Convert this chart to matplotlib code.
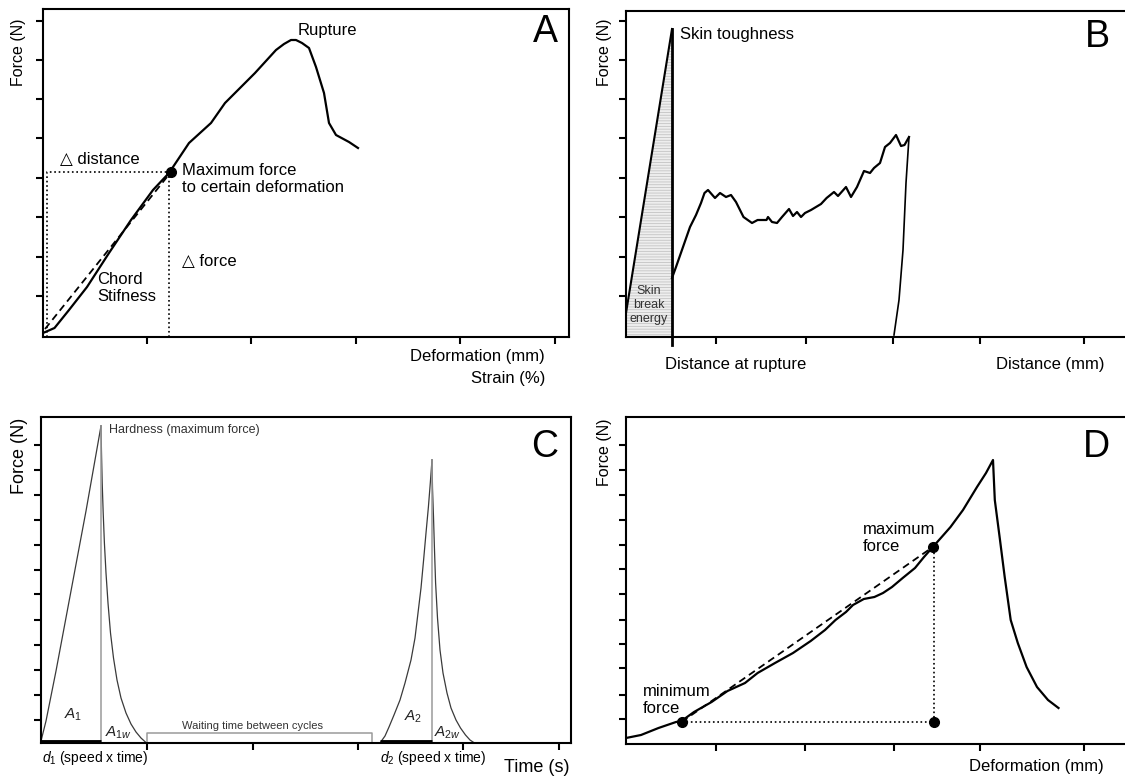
import numpy as np
import matplotlib
matplotlib.use('Agg')
import matplotlib.pyplot as plt

plt.rcParams['font.family'] = ['Liberation Sans', 'DejaVu Sans']
plt.rcParams['mathtext.fontset'] = 'custom'
plt.rcParams['mathtext.it'] = 'Liberation Sans:italic'
plt.rcParams['mathtext.rm'] = 'Liberation Sans'
plt.rcParams['hatch.linewidth'] = 0.6

# ---------------- data (units = screen px inside each panel) ----------------
# A: force / deformation curve
a_x = [0, 11.5, 26, 44, 66, 88, 110, 126, 146, 168, 182, 212, 233, 241, 248, 253, 259, 266, 273, 281, 286, 293, 306, 315]
a_y = [4, 9, 27, 50, 84, 117, 147, 164, 194, 214, 234, 264, 287, 293, 297, 297, 294, 289, 270, 244, 214, 202, 195, 189]
a_point = (128, 165)          # maximum force to certain deformation
a_chord_start = (2, 8)
a_xticks = [104, 208, 313, 417, 512]
a_yticks = [41, 80, 120, 159, 199, 238, 277, 316]

# B: puncture curve
b_rise_x = [0, 46]
b_rise_y = [24, 308]
b_rupture_x = 46
b_x = [46, 50, 57, 64, 70, 75, 78.5, 82, 89, 94, 100, 105, 110, 117.5, 126, 131.6, 140.5, 142, 146,
       151, 156, 163, 167, 171, 175, 179, 185, 190, 195, 200.6, 208, 212, 220, 225, 231, 238, 244,
       248, 254, 259, 264, 270, 275, 278.5, 283]
b_y = [59, 70, 90, 110, 122, 134, 144, 147, 139, 144, 140, 142, 135, 120, 114, 117, 117, 120, 115,
       114, 120, 128, 121, 125, 120, 124, 127, 130, 133, 139, 145, 141, 150, 140, 150, 166, 164,
       169, 174, 190, 194, 202, 191, 192, 200]
b_drop_x = [283, 280, 277, 273, 268]
b_drop_y = [200, 154, 87, 37, 2]
b_xticks = [90, 180, 267, 354, 458]
b_yticks = [41, 80, 120, 159, 199, 238, 277, 316]

# C: two compression cycles (TPA)
c1_up_x = [0, 5, 15, 30, 45, 60]
c1_up_y = [2, 22, 72, 152, 232, 317]
c1_down_x = [60, 60.5, 61.2, 62.2, 63.4, 65, 67, 69.5, 72.5, 76, 80, 85, 90, 95, 100, 105.5]
c1_down_y = [317, 290, 260, 230, 200, 170, 140, 110, 85, 63, 45, 30, 19, 11, 5, 0]
c2_up_x = [339, 344, 348, 353, 359, 364, 370, 374, 377, 380, 382.6, 385, 387.4, 389.3, 391]
c2_up_y = [0, 7, 16, 28, 43, 60, 83, 105, 130, 155, 183, 210, 236, 260, 283]
c2_down_x = [391, 391.5, 392.5, 393.5, 394.6, 396.5, 399, 402, 406, 410, 415, 419.5, 424.5, 429, 433.5]
c2_down_y = [283, 255, 226, 193, 160, 125, 93, 70, 50, 35, 23, 15, 8, 3, 0]
c_wait = (105.5, 330.6, 10.3)
c_xticks = [105.5, 212, 317, 421.5, 518]
c_yticks = [23, 48, 73, 98, 123, 149, 173, 198, 223, 248, 273, 298]

# D: bending / snapping curve
d_x = [0, 15, 32.5, 50, 55.5, 68, 85.6, 101.5, 119, 131.6, 149, 167, 184.7, 199, 209.5, 220, 227,
       237.8, 248.4, 257, 266, 276.7, 289, 298, 306.8, 315.7, 324.5, 337, 351, 360, 367,
       368.8, 374, 378.7, 384.7, 391.8, 400.6, 411, 422, 432.5]
d_y = [6, 9, 16, 22, 23, 32, 42, 53, 61, 71, 81, 91, 103, 114, 124, 132, 139,
       145, 147, 151, 157, 166, 176, 187, 197, 207, 217, 234, 257, 271, 284,
       244, 204, 167, 124, 101, 77, 57, 44, 36]
d_min = (55.5, 22)
d_max = (306.8, 197)
d_corner = (308, 22)
d_xticks = [90, 179, 268, 354, 458]
d_yticks = [25, 49, 76, 100, 124, 150, 175, 199, 224, 249, 274, 299]

W, H = 1125, 776
fig = plt.figure(figsize=(W / 100, H / 100), dpi=100)


def panel(left, top, right, bottom, xticks, yticks, right_spine=True):
    ax = fig.add_axes([left / W, 1 - bottom / H, (right - left) / W, (bottom - top) / H])
    ax.set_xlim(0, right - left)
    ax.set_ylim(0, bottom - top)
    ax.set_xticks(xticks)
    ax.set_yticks(yticks)
    ax.tick_params(direction='out', length=5, width=1.5, color='black',
                   labelbottom=False, labelleft=False)
    for s in ax.spines.values():
        s.set_linewidth(1.5)
    if not right_spine:
        ax.spines['right'].set_visible(False)
    return ax


# ---------------- A ----------------
ax = panel(43, 9, 569, 337, a_xticks, a_yticks)
ax.plot(a_x, a_y, color='black', lw=1.6)
ax.plot([a_chord_start[0], a_point[0]], [a_chord_start[1], a_point[1]], color='black', lw=1.3, ls=(0, (4, 2.5)))
ax.plot([3.5, 3.5, a_point[0]], [0, a_point[1], a_point[1]], color='black', lw=1.2, ls=':')
ax.plot([a_point[0] - 2, a_point[0] - 2], [0, a_point[1]], color='black', lw=1.2, ls=':')
ax.plot(*a_point, 'o', color='black', ms=7)
ax.text(255, 307, 'Rupture', fontsize=12, va='center')
ax.text(17, 178, '△ distance', fontsize=12, va='center')
ax.text(139, 158, 'Maximum force\nto certain deformation', fontsize=12, va='center', linespacing=1.2)
ax.text(139, 76, '△ force', fontsize=12, va='center')
ax.text(54, 49, 'Chord\nStifness', fontsize=12, va='center', linespacing=1.2)
ax.text(515, 305, 'A', fontsize=27, ha='right', va='center')
ax.text(-24, 285, 'Force (N)', fontsize=11.5, rotation=90, ha='center', va='center')
ax.text(502, -20, 'Deformation (mm)', fontsize=12, ha='right', va='center')
ax.text(502, -41, 'Strain (%)', fontsize=12, ha='right', va='center')

# ---------------- B ----------------
ax = panel(626, 11, 1125, 337, b_xticks, b_yticks, right_spine=False)
ax.fill_between(b_rise_x, 0, b_rise_y, facecolor='#eeeeee', edgecolor='#c4c4c4', hatch='------', lw=0)
ax.plot(b_rise_x, b_rise_y, color='black', lw=1.5)
ax.plot([b_rupture_x, b_rupture_x], [-8, b_rise_y[-1]], color='black', lw=2, clip_on=False)
ax.plot(b_x, b_y, color='black', lw=1.6)
ax.plot(b_drop_x, b_drop_y, color='black', lw=1.2)
ax.text(54, 302, 'Skin toughness', fontsize=12, va='center')
ax.text(484, 300, 'B', fontsize=27, ha='right', va='center')
ax.text(-21, 285, 'Force (N)', fontsize=11.5, rotation=90, ha='center', va='center')
ax.text(23, 32, 'Skin\nbreak\nenergy', fontsize=9, color='#333333', ha='center', va='center', linespacing=1.2)
ax.text(39, -27, 'Distance at rupture', fontsize=12, va='center')
ax.text(478, -27, 'Distance (mm)', fontsize=12, ha='right', va='center')

# ---------------- C ----------------
ax = panel(41, 417, 571, 743, c_xticks, c_yticks)
curve_c = '#3a3a3a'
ax.plot(c1_up_x, c1_up_y, color=curve_c, lw=0.9)
ax.plot(c1_down_x, c1_down_y, color=curve_c, lw=0.9)
ax.plot([c1_up_x[-1]] * 2, [0, c1_up_y[-1]], color='#9a9a9a', lw=1.1)
ax.plot(c2_up_x, c2_up_y, color=curve_c, lw=0.9)
ax.plot(c2_down_x, c2_down_y, color=curve_c, lw=0.9)
ax.plot([c2_up_x[-1]] * 2, [0, c2_up_y[-1]], color='#9a9a9a', lw=1.1)
ax.plot([c1_up_x[0], c1_up_x[-1]], [1, 1], color='black', lw=3.5, solid_capstyle='butt')
ax.plot([c2_up_x[0], c2_up_x[-1]], [1, 1], color='black', lw=3.5, solid_capstyle='butt')
x0, x1, hw = c_wait
ax.plot([x0, x0, x1, x1], [0, hw, hw, 0], color='#9a9a9a', lw=1.1)
ax.text(68, 313, 'Hardness (maximum force)', fontsize=9, color='#333333', va='center')
ax.text(517, 296, 'C', fontsize=27, ha='right', va='center')
ax.text(-21, 287, 'Force (N)', fontsize=13, rotation=90, ha='center', va='center')
ax.text(32, 28, r'$A_{\mathit{1}}$', fontsize=11, color='#222222', ha='center', va='center')
ax.text(64, 10, r'$A_{\mathit{1w}}$', fontsize=11, color='#222222', va='center')
ax.text(212, 17, 'Waiting time between cycles', fontsize=8, color='#333333', ha='center', va='center')
ax.text(372, 26, r'$A_{\mathit{2}}$', fontsize=11, color='#222222', ha='center', va='center')
ax.text(393.5, 10, r'$A_{\mathit{2w}}$', fontsize=11, color='#222222', va='center')
ax.text(1, -15, r'$d_{\mathit{1}}$ (speed x time)', fontsize=10, va='center')
ax.text(339, -15, r'$d_{\mathit{2}}$ (speed x time)', fontsize=10, va='center')
ax.text(528, -24, 'Time (s)', fontsize=13, ha='right', va='center')

# ---------------- D ----------------
ax = panel(626, 417, 1125, 744, d_xticks, d_yticks, right_spine=False)
ax.plot(d_x, d_y, color='black', lw=1.6)
ax.plot([d_min[0], d_max[0]], [d_min[1], d_max[1]], color='black', lw=1.3, ls=(0, (4, 2.5)))
ax.plot([d_min[0], d_corner[0]], [d_min[1], d_corner[1]], color='black', lw=1.2, ls=':')
ax.plot([d_corner[0], d_corner[0]], [d_corner[1], d_max[1]], color='black', lw=1.2, ls=':')
for px, py in [d_min, d_max, d_corner]:
    ax.plot(px, py, 'o', color='black', ms=7)
ax.text(237, 206, 'maximum\nforce', fontsize=12, va='center', linespacing=1.2)
ax.text(16.6, 44, 'minimum\nforce', fontsize=12, va='center', linespacing=1.2)
ax.text(484, 297, 'D', fontsize=27, ha='right', va='center')
ax.text(-21, 292, 'Force (N)', fontsize=11.5, rotation=90, ha='center', va='center')
ax.text(478, -23, 'Deformation (mm)', fontsize=12, ha='right', va='center')

fig.savefig('out.png', dpi=100)
